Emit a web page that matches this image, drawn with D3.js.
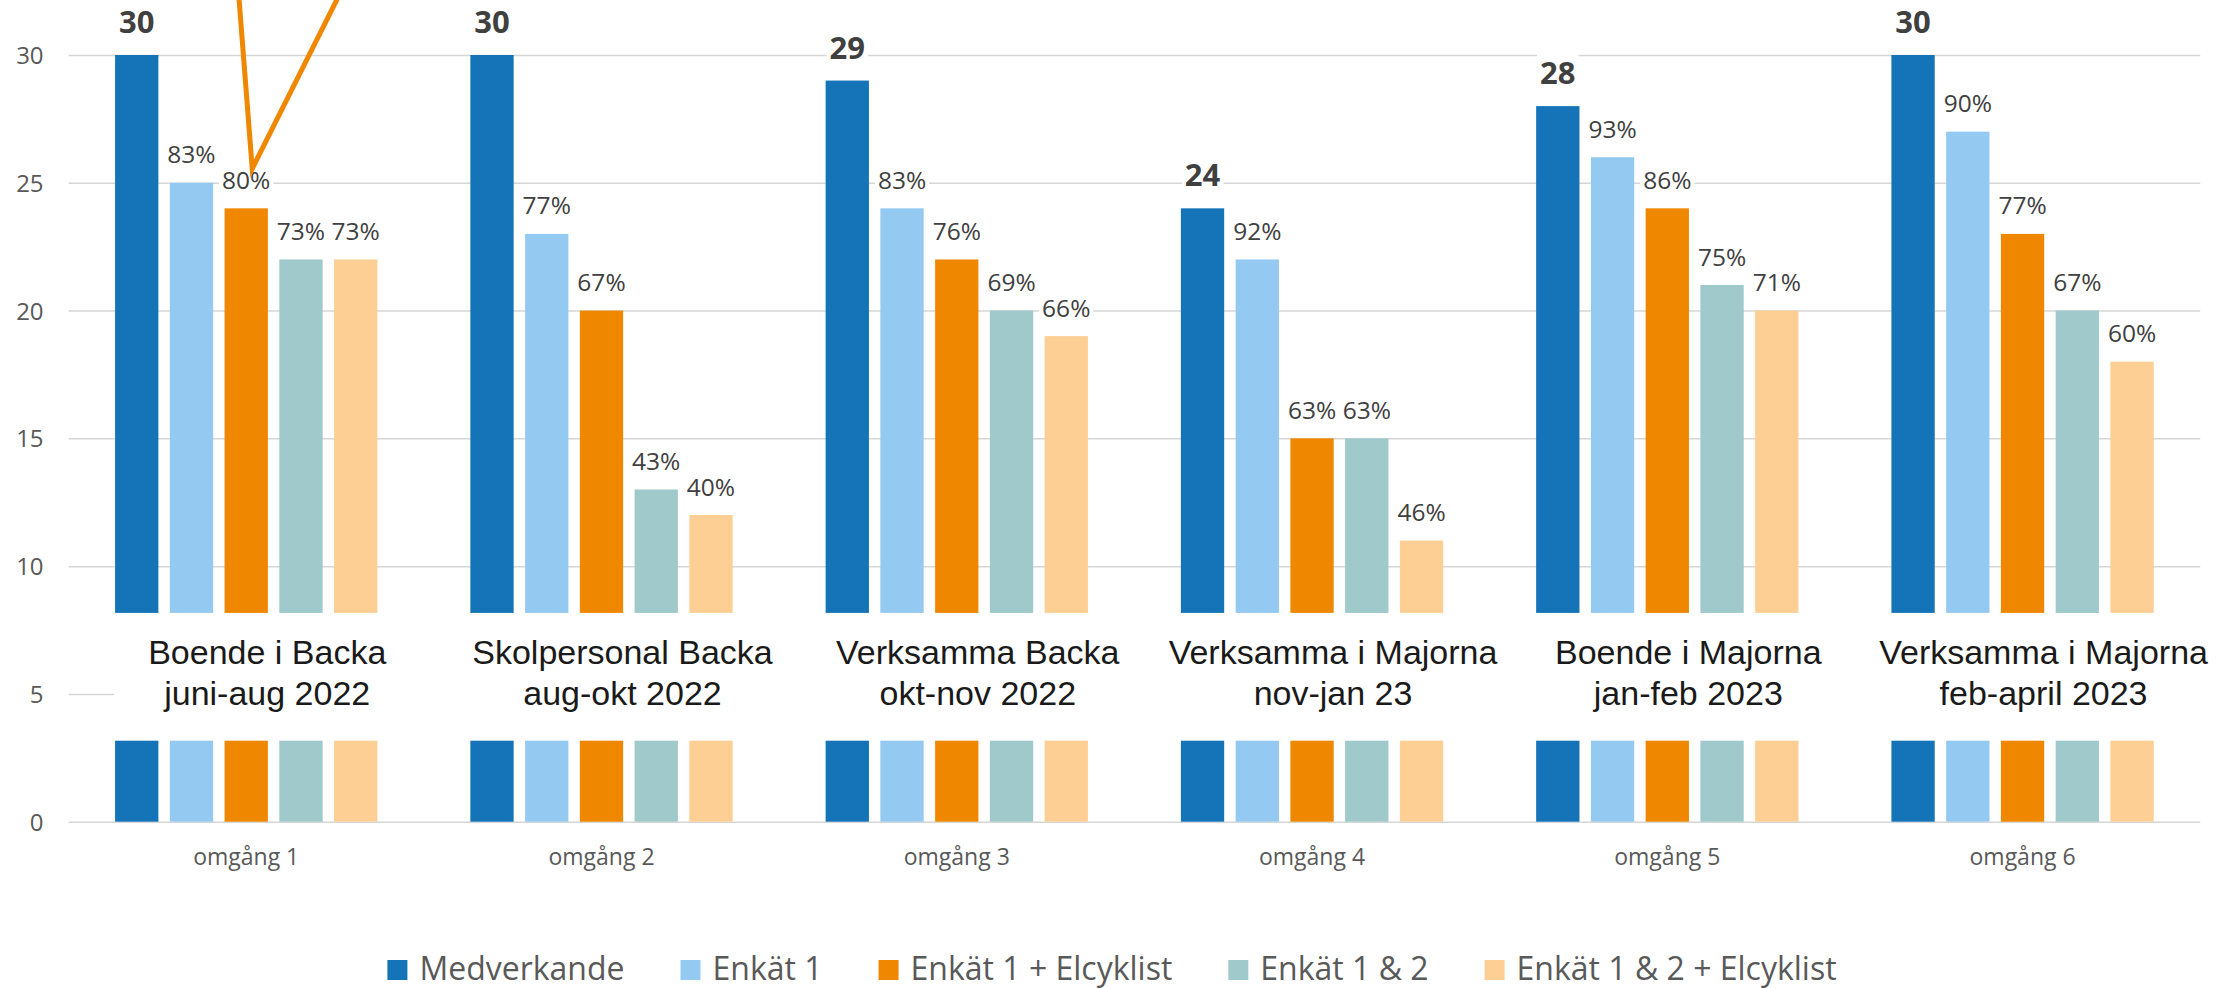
<!DOCTYPE html>
<html lang="sv">
<head>
  <meta charset="UTF-8">
  <title>Medverkande och enkätsvar per omgång</title>
  <style>
    body {
      margin: 0;
      padding: 0;
      background-color: #ffffff;
    }
    svg {
      display: block;
    }
    .grid line {
      stroke: #d6d6d6;
      stroke-width: 1.5;
    }
    .grid text {
      font-family: "Open Sans", sans-serif;
      font-size: 24px;
      fill: #595959;
    }
    .val {
      font-family: "Open Sans", sans-serif;
      font-size: 24.5px;
      fill: #404040;
    }
    .val.bold {
      font-weight: bold;
      font-size: 31px;
    }
    .title {
      font-family: "Liberation Sans", Arial, sans-serif;
      font-size: 34px;
      fill: #1a1a1a;
    }
    .cat {
      font-family: "Open Sans", sans-serif;
      font-size: 23px;
      fill: #595959;
    }
    .legend text {
      font-family: "Open Sans", sans-serif;
      font-size: 32px;
      fill: #595959;
    }
  </style>
</head>
<body>
  <svg id="chart"></svg>

  <script src="https://d3js.org/d3.v7.min.js"></script>
  <script>
    // categories (x axis) and the titles that sit in the white band
    const categories = ["omgång 1", "omgång 2", "omgång 3", "omgång 4", "omgång 5", "omgång 6"];
    const groupTitles = [
      ["Boende i Backa", "juni-aug 2022"],
      ["Skolpersonal Backa", "aug-okt 2022"],
      ["Verksamma Backa", "okt-nov 2022"],
      ["Verksamma i Majorna", "nov-jan 23"],
      ["Boende i Majorna", "jan-feb 2023"],
      ["Verksamma i Majorna", "feb-april 2023"]
    ];

    const seriesNames = ["Medverkande", "Enkät 1", "Enkät 1 + Elcyklist", "Enkät 1 & 2", "Enkät 1 & 2 + Elcyklist"];
    const seriesColors = ["#1573b8", "#94c9f1", "#f08700", "#9fc9cb", "#fdcf95"];

    // series values
    const medverkande = [30, 30, 29, 24, 28, 30];
    const enkat1      = [25, 23, 24, 22, 26, 27];
    const enkat1El    = [24, 20, 22, 15, 24, 23];
    const enkat12     = [22, 13, 20, 15, 21, 20];
    const enkat12El   = [22, 12, 19, 11, 20, 18];

    // data labels as printed on the chart
    const medverkandeLabels = ["30", "30", "29", "24", "28", "30"];
    const enkat1Labels      = ["83%", "77%", "83%", "92%", "93%", "90%"];
    const enkat1ElLabels    = ["80%", "67%", "76%", "63%", "86%", "77%"];
    const enkat12Labels     = ["73%", "43%", "69%", "63%", "75%", "67%"];
    const enkat12ElLabels   = ["73%", "40%", "66%", "46%", "71%", "60%"];

    const yTicks = [0, 5, 10, 15, 20, 25, 30];

    const seriesValues = [medverkande, enkat1, enkat1El, enkat12, enkat12El];
    const seriesLabels = [medverkandeLabels, enkat1Labels, enkat1ElLabels, enkat12Labels, enkat12ElLabels];

    const width = 2231;
    const height = 988;
    const plotLeft = 68.6, plotRight = 2200.2, plotTop = 55, plotBottom = 821.7;

    const svg = d3.select("#chart").attr("width", width).attr("height", height);

    const x0 = d3.scaleBand().domain(categories).range([plotLeft, plotRight]).padding(0);
    const x1 = d3.scaleBand().domain(seriesNames).range([0, x0.bandwidth()])
      .paddingInner(0.209).paddingOuter(0.849);
    const y = d3.scaleLinear().domain([0, 30]).range([plotBottom, plotTop]);

    // gridlines + y tick labels
    svg.append("g")
      .attr("class", "grid")
      .attr("transform", `translate(${plotLeft},0)`)
      .call(d3.axisLeft(y).tickValues(yTicks).tickSize(-(plotRight - plotLeft)).tickPadding(25))
      .call(g => g.select(".domain").remove())
      .call(g => g.selectAll("text").attr("dy", "0.36em"));

    // flatten to rows
    const rows = [];
    categories.forEach((c, i) => {
      seriesNames.forEach((s, j) => {
        rows.push({ cat: c, series: s, si: j, value: seriesValues[j][i], label: seriesLabels[j][i] });
      });
    });

    svg.append("g").selectAll("rect")
      .data(rows)
      .enter().append("rect")
      .attr("x", d => x0(d.cat) + x1(d.series))
      .attr("y", d => y(d.value))
      .attr("width", x1.bandwidth())
      .attr("height", d => y(0) - y(d.value))
      .attr("fill", d => seriesColors[d.si]);

    // white band that cuts the bars (text box in the original)
    const bandTop = y(8.17), bandBottom = y(3.17);
    const bandLeft = x0(categories[0]) + x1(seriesNames[0]) - 1;
    svg.append("rect")
      .attr("x", bandLeft)
      .attr("y", bandTop)
      .attr("width", width - bandLeft)
      .attr("height", bandBottom - bandTop)
      .attr("fill", "#ffffff");

    const groupCenter = c => x0(c) + x0.bandwidth() / 2;

    // group titles inside the band
    const titles = svg.append("g");
    categories.forEach((c, i) => {
      groupTitles[i].forEach((line, k) => {
        titles.append("text")
          .attr("class", "title")
          .attr("x", groupCenter(c) + 21)
          .attr("y", 664 + k * 41)
          .attr("text-anchor", "middle")
          .text(line);
      });
    });

    // data labels with white backing
    const labelG = svg.append("g");
    const bgG = labelG.append("g");
    const txtG = labelG.append("g");
    const labels = txtG.selectAll("text")
      .data(rows)
      .enter().append("text")
      .attr("class", d => d.si === 0 ? "val bold" : "val")
      .attr("x", d => x0(d.cat) + x1(d.series) + x1.bandwidth() / 2)
      .attr("y", d => y(d.value) - (d.si === 0 ? 22 : 19.5))
      .attr("text-anchor", "middle")
      .text(d => d.label);
    labels.each(function() {
      const b = this.getBBox();
      bgG.append("rect")
        .attr("x", b.x - 3).attr("y", b.y + 2)
        .attr("width", b.width + 6).attr("height", b.height - 2)
        .attr("fill", "#ffffff");
    });

    // category labels under the axis
    svg.append("g").selectAll("text")
      .data(categories)
      .enter().append("text")
      .attr("class", "cat")
      .attr("x", d => groupCenter(d))
      .attr("y", 865)
      .attr("text-anchor", "middle")
      .text(d => d);

    // legend, laid out from measured text widths and centred
    const legend = svg.append("g").attr("class", "legend");
    const items = legend.selectAll("g")
      .data(seriesNames)
      .enter().append("g");
    items.append("rect")
      .attr("width", 20).attr("height", 20)
      .attr("y", 960)
      .attr("fill", (d, i) => seriesColors[i]);
    items.append("text")
      .attr("x", 32)
      .attr("y", 980)
      .text(d => d);
    const gap = 56;
    let cursor = 0;
    const offsets = [];
    items.each(function() {
      offsets.push(cursor);
      cursor += 32 + d3.select(this).select("text").node().getComputedTextLength() + gap;
    });
    const legendWidth = cursor - gap;
    const legendStart = 1112 - legendWidth / 2;
    items.attr("transform", (d, i) => `translate(${legendStart + offsets[i]},0)`);

    // orange callout pointing at the 80% label
    const tipX = x0(categories[0]) + x1(seriesNames[2]) + x1.bandwidth() / 2 + 6;
    const tipY = y(25.55);
    svg.append("path")
      .attr("d", d3.line()([[tipX - 13.5, -5], [tipX, tipY], [tipX + 87, -5]]))
      .attr("fill", "none")
      .attr("stroke", "#f08700")
      .attr("stroke-width", 5)
      .attr("stroke-linejoin", "miter");
  </script>
</body>
</html>
